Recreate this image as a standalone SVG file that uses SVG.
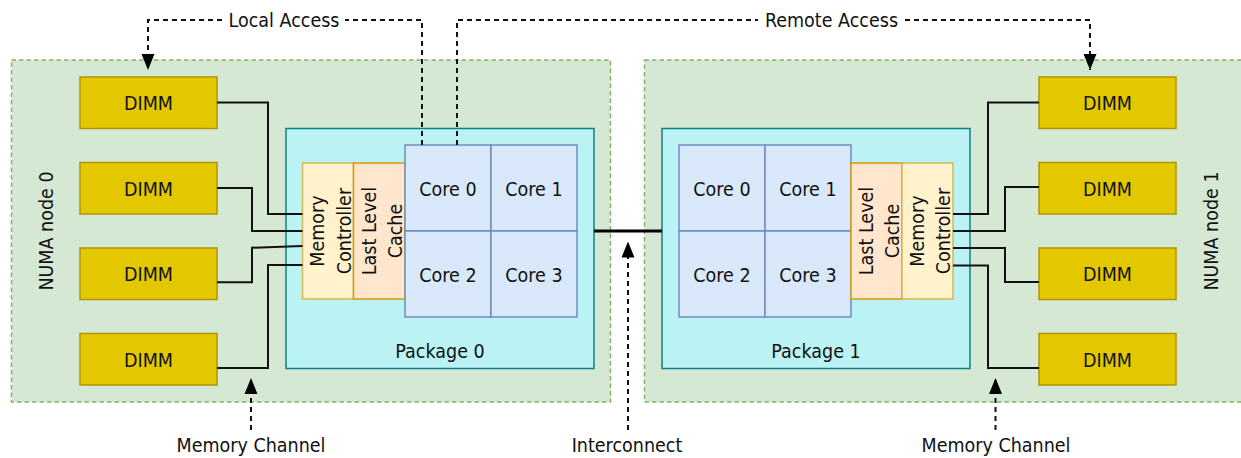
<svg xmlns="http://www.w3.org/2000/svg" width="1241" height="458" viewBox="0 0 1241 458">
<style>
text{font-family:"DejaVu Sans Condensed","DejaVu Sans",sans-serif;font-stretch:condensed;font-size:19.5px;fill:#111;}
.c{text-anchor:middle;}
.numa{fill:#d5e8d4;stroke:#82b366;stroke-width:1.5;stroke-dasharray:4.5 3;}
.pkg{fill:#bbf3f5;stroke:#0e8088;stroke-width:1.5;}
.dimm{fill:#e3c800;stroke:#b09500;stroke-width:1.5;}
.mc{fill:#fff2cc;stroke:#d6b656;stroke-width:1.5;}
.llc{fill:#ffe6cc;stroke:#d79b00;stroke-width:1.5;}
.core{fill:#dae8fc;stroke:#6c8ebf;stroke-width:1.5;}
.wire{fill:none;stroke:#111;stroke-width:2;}
.dash{fill:none;stroke:#111;stroke-width:2;stroke-dasharray:5 4;}
</style>
<defs>
<marker id="arr" markerUnits="userSpaceOnUse" markerWidth="16" markerHeight="14" refX="16" refY="7" orient="auto">
<path d="M0,0.5 L16,7 L0,13.5 Z" fill="#000"/>
</marker>
</defs>

<g id="numa0"><rect class="numa" x="11.5" y="60" width="599" height="342"/>
<text transform="translate(53,231) rotate(-90)" class="c">NUMA node 0</text></g>
<g id="numa1"><rect class="numa" x="644.5" y="60" width="600" height="342"/>
<text transform="translate(1218,231) rotate(-90)" class="c">NUMA node 1</text></g>

<g id="package0"><rect class="pkg" x="286" y="128.5" width="308" height="240"/>
<text x="440" y="358" class="c">Package 0</text></g>
<g id="package1"><rect class="pkg" x="662" y="128.5" width="308" height="240"/>
<text x="816" y="358" class="c">Package 1</text></g>

<g id="mc0"><rect class="mc" x="302.5" y="163" width="51" height="136"/>
<text transform="translate(324,231) rotate(-90)" class="c">Memory</text>
<text transform="translate(350.5,231) rotate(-90)" class="c">Controller</text></g>
<g id="llc0"><rect class="llc" x="353.5" y="163" width="51.5" height="136"/>
<text transform="translate(376,231) rotate(-90)" class="c">Last Level</text>
<text transform="translate(402,231) rotate(-90)" class="c">Cache</text></g>
<g id="p0core0"><rect class="core" x="405" y="145" width="86" height="86"/><text x="448" y="195.5" class="c">Core 0</text></g>
<g id="p0core1"><rect class="core" x="491" y="145" width="86" height="86"/><text x="534" y="195.5" class="c">Core 1</text></g>
<g id="p0core2"><rect class="core" x="405" y="231" width="86" height="86"/><text x="448" y="281.5" class="c">Core 2</text></g>
<g id="p0core3"><rect class="core" x="491" y="231" width="86" height="86"/><text x="534" y="281.5" class="c">Core 3</text></g>

<g id="p1core0"><rect class="core" x="679" y="145" width="86" height="86"/><text x="722" y="195.5" class="c">Core 0</text></g>
<g id="p1core1"><rect class="core" x="765" y="145" width="86" height="86"/><text x="808" y="195.5" class="c">Core 1</text></g>
<g id="p1core2"><rect class="core" x="679" y="231" width="86" height="86"/><text x="722" y="281.5" class="c">Core 2</text></g>
<g id="p1core3"><rect class="core" x="765" y="231" width="86" height="86"/><text x="808" y="281.5" class="c">Core 3</text></g>
<g id="llc1"><rect class="llc" x="851" y="163" width="51" height="136"/>
<text transform="translate(872.5,231) rotate(-90)" class="c">Last Level</text>
<text transform="translate(898.5,231) rotate(-90)" class="c">Cache</text></g>
<g id="mc1"><rect class="mc" x="902" y="163" width="51" height="136"/>
<text transform="translate(923.5,231) rotate(-90)" class="c">Memory</text>
<text transform="translate(949.5,231) rotate(-90)" class="c">Controller</text></g>

<g id="dimm-l0"><rect class="dimm" x="80" y="77" width="137" height="51.5"/><text x="148.5" y="110" class="c">DIMM</text></g>
<g id="dimm-l1"><rect class="dimm" x="80" y="162.5" width="137" height="51.5"/><text x="148.5" y="195.5" class="c">DIMM</text></g>
<g id="dimm-l2"><rect class="dimm" x="80" y="248" width="137" height="51.5"/><text x="148.5" y="281" class="c">DIMM</text></g>
<g id="dimm-l3"><rect class="dimm" x="80" y="333.5" width="137" height="51.5"/><text x="148.5" y="366.5" class="c">DIMM</text></g>
<g id="dimm-r0"><rect class="dimm" x="1039" y="77" width="137" height="51.5"/><text x="1107.5" y="110" class="c">DIMM</text></g>
<g id="dimm-r1"><rect class="dimm" x="1039" y="162.5" width="137" height="51.5"/><text x="1107.5" y="195.5" class="c">DIMM</text></g>
<g id="dimm-r2"><rect class="dimm" x="1039" y="248" width="137" height="51.5"/><text x="1107.5" y="281" class="c">DIMM</text></g>
<g id="dimm-r3"><rect class="dimm" x="1039" y="333.5" width="137" height="51.5"/><text x="1107.5" y="366.5" class="c">DIMM</text></g>

<g id="connectors">
<path class="wire" d="M217,102.5 H268 V214 H302.5"/>
<path class="wire" d="M217,188 H252 V231 H302.5"/>
<path class="wire" d="M217,282.3 H252 V247.7 L302.5,246"/>
<path class="wire" d="M217,368 H268 V265 H302.5"/>
<path class="wire" d="M953,214 H988 V102.5 H1039"/>
<path class="wire" d="M953,231 H1005 V187 H1039"/>
<path class="wire" d="M953,248 H1005 V282 H1039"/>
<path class="wire" d="M953,265.5 H988 V368 H1039"/>
<path d="M594,231 H662" fill="none" stroke="#000" stroke-width="3"/>
<path class="dash" d="M422,145 V20 H345"/>
<path class="dash" d="M222,20 H148 V70" marker-end="url(#arr)"/>
<path class="dash" d="M457,145 V20 H758"/>
<path class="dash" d="M905,20 H1090 V70" marker-end="url(#arr)"/>
<path class="dash" d="M251,430 V378" marker-end="url(#arr)"/>
<path class="dash" d="M628,430 V241.5" marker-end="url(#arr)"/>
<path class="dash" d="M995.5,430 V378" marker-end="url(#arr)"/>
<text x="284" y="26.5" class="c">Local Access</text>
<text x="831.5" y="26.5" class="c">Remote Access</text>
<text x="251" y="452" class="c">Memory Channel</text>
<text x="627" y="452" class="c">Interconnect</text>
<text x="996" y="452" class="c">Memory Channel</text>
</g>
</svg>
